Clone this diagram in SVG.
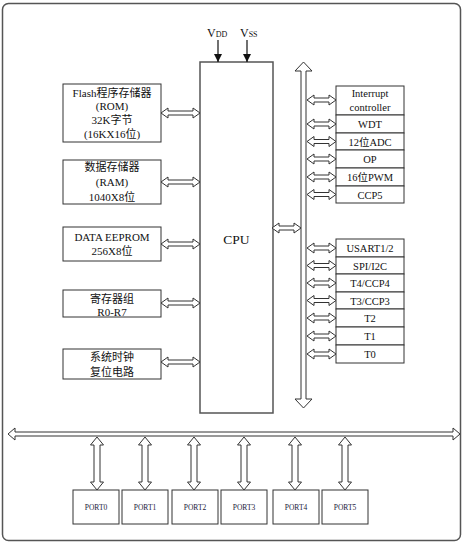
<svg xmlns="http://www.w3.org/2000/svg" width="464" height="544" viewBox="0 0 464 544">
<style>
.frame{fill:#fff;stroke:#555;stroke-width:1.5}
.box{fill:#fff;stroke:#333;stroke-width:1}
.cpu{fill:#fff;stroke:#555;stroke-width:1.5}
.arr{fill:#fff;stroke:#333;stroke-width:1;stroke-linejoin:miter}
.t{font-family:"Liberation Serif","Noto Sans CJK SC",serif;font-size:11px;fill:#111;text-anchor:middle}
.r{font-size:10.5px}
.p{font-size:7.5px;fill:#1a1a3a}
.big{font-size:13.5px}
.ln{stroke:#111;stroke-width:1.2}
</style>
<defs>
<marker id="ah" viewBox="0 0 8 8" refX="8" refY="4" markerWidth="8" markerHeight="8" markerUnits="userSpaceOnUse" orient="auto"><path d="M0,0 L8,4 L0,8 Z" fill="#111"/></marker>
</defs>
<rect class="frame" x="2.5" y="3.5" width="458" height="537" rx="6"/>

<g id="vdd">
<text x="207" y="37" font-family="Liberation Serif,serif" font-size="12" fill="#111">V<tspan font-size="8">DD</tspan></text>
</g>
<g id="vss">
<text x="240" y="37" font-family="Liberation Serif,serif" font-size="12" fill="#111">V<tspan font-size="8">SS</tspan></text>
</g>

<g id="cpu">
<rect class="cpu" x="200" y="62" width="73" height="351"/>
<text class="t big" x="236.5" y="244">CPU</text>
</g>

<g id="flash">
<rect class="box" x="63" y="84" width="98" height="58"/>
<text class="t" x="112" y="97">Flash程序存储器</text>
<text class="t" x="112" y="110">(ROM)</text>
<text class="t" x="112" y="124">32K字节</text>
<text class="t" x="112" y="138">(16KX16位)</text>
</g>
<g id="ram">
<rect class="box" x="63" y="160" width="98" height="44"/>
<text class="t" x="112" y="171">数据存储器</text>
<text class="t" x="112" y="186">(RAM)</text>
<text class="t" x="112" y="201">1040X8位</text>
</g>
<g id="eeprom">
<rect class="box" x="63" y="227" width="98" height="34"/>
<text class="t" x="112" y="241">DATA EEPROM</text>
<text class="t" x="112" y="255">256X8位</text>
</g>
<g id="regs">
<rect class="box" x="63" y="290" width="98" height="27"/>
<text class="t" x="112" y="303">寄存器组</text>
<text class="t" x="112" y="316">R0-R7</text>
</g>
<g id="clock">
<rect class="box" x="63" y="349" width="98" height="30"/>
<text class="t" x="112" y="361">系统时钟</text>
<text class="t" x="112" y="376">复位电路</text>
</g>

<g id="intc"><rect class="box" x="336" y="86" width="68" height="29"/><text class="t r" x="370" y="97">Interrupt</text><text class="t r" x="370" y="111">controller</text></g>
<g id="wdt"><rect class="box" x="336" y="115" width="68" height="18"/><text class="t r" x="370" y="128">WDT</text></g>
<g id="adc"><rect class="box" x="336" y="133" width="68" height="17"/><text class="t r" x="370" y="145.5">12位ADC</text></g>
<g id="op"><rect class="box" x="336" y="150" width="68" height="18"/><text class="t r" x="370" y="163">OP</text></g>
<g id="pwm"><rect class="box" x="336" y="168" width="68" height="18"/><text class="t r" x="370" y="181">16位PWM</text></g>
<g id="ccp5"><rect class="box" x="336" y="186" width="68" height="17"/><text class="t r" x="370" y="198.5">CCP5</text></g>

<g id="usart"><rect class="box" x="336" y="239" width="68" height="18"/><text class="t r" x="370" y="252">USART1/2</text></g>
<g id="spi"><rect class="box" x="336" y="257" width="68" height="17"/><text class="t r" x="370" y="269.5">SPI/I2C</text></g>
<g id="t4"><rect class="box" x="336" y="274" width="68" height="18"/><text class="t r" x="370" y="287">T4/CCP4</text></g>
<g id="t3"><rect class="box" x="336" y="292" width="68" height="17"/><text class="t r" x="370" y="304.5">T3/CCP3</text></g>
<g id="t2"><rect class="box" x="336" y="309" width="68" height="18"/><text class="t r" x="370" y="322">T2</text></g>
<g id="t1"><rect class="box" x="336" y="327" width="68" height="18"/><text class="t r" x="370" y="340">T1</text></g>
<g id="t0"><rect class="box" x="336" y="345" width="68" height="18"/><text class="t r" x="370" y="358">T0</text></g>

<g id="port0"><rect class="box" x="73" y="490" width="46" height="34"/><text class="t p" x="96" y="510">PORT0</text></g>
<g id="port1"><rect class="box" x="122" y="490" width="46" height="34"/><text class="t p" x="145" y="510">PORT1</text></g>
<g id="port2"><rect class="box" x="172" y="490" width="46" height="34"/><text class="t p" x="195" y="510">PORT2</text></g>
<g id="port3"><rect class="box" x="221" y="490" width="46" height="34"/><text class="t p" x="244" y="510">PORT3</text></g>
<g id="port4"><rect class="box" x="273" y="490" width="46" height="34"/><text class="t p" x="296" y="510">PORT4</text></g>
<g id="port5"><rect class="box" x="322" y="490" width="46" height="34"/><text class="t p" x="345" y="510">PORT5</text></g>

<g id="connectors">
<line class="ln" x1="218" y1="40" x2="218" y2="62" marker-end="url(#ah)"/>
<line class="ln" x1="247" y1="40" x2="247" y2="62" marker-end="url(#ah)"/>
<path class="arr" d="M303.5,62 L312,71 L306,71 L306,399 L312,399 L303.5,408 L295,399 L301,399 L301,71 L295,71 Z"/>
<path class="arr" d="M8,434 L15,428 L15,432 L453,432 L453,428 L460,434 L453,440 L453,436 L15,436 L15,440 Z"/>
<path class="arr" d="M161,113 L168,108 L168,111 L193,111 L193,108 L200,113 L193,118 L193,115 L168,115 L168,118 Z"/>
<path class="arr" d="M161,182 L168,177 L168,180 L193,180 L193,177 L200,182 L193,187 L193,184 L168,184 L168,187 Z"/>
<path class="arr" d="M161,244 L168,239 L168,242 L193,242 L193,239 L200,244 L193,249 L193,246 L168,246 L168,249 Z"/>
<path class="arr" d="M161,303 L168,298 L168,301 L193,301 L193,298 L200,303 L193,308 L193,305 L168,305 L168,308 Z"/>
<path class="arr" d="M161,362 L168,357 L168,360 L193,360 L193,357 L200,362 L193,367 L193,364 L168,364 L168,367 Z"/>
<path class="arr" d="M272,228 L279,223 L279,226 L294,226 L294,223 L301,228 L294,233 L294,230 L279,230 L279,233 Z"/>
<path class="arr" d="M307,100 L314,95 L314,98 L329,98 L329,95 L336,100 L329,105 L329,102 L314,102 L314,105 Z"/>
<path class="arr" d="M307,124 L314,119 L314,122 L329,122 L329,119 L336,124 L329,129 L329,126 L314,126 L314,129 Z"/>
<path class="arr" d="M307,141.5 L314,136.5 L314,139.5 L329,139.5 L329,136.5 L336,141.5 L329,146.5 L329,143.5 L314,143.5 L314,146.5 Z"/>
<path class="arr" d="M307,159 L314,154 L314,157 L329,157 L329,154 L336,159 L329,164 L329,161 L314,161 L314,164 Z"/>
<path class="arr" d="M307,177 L314,172 L314,175 L329,175 L329,172 L336,177 L329,182 L329,179 L314,179 L314,182 Z"/>
<path class="arr" d="M307,194.5 L314,189.5 L314,192.5 L329,192.5 L329,189.5 L336,194.5 L329,199.5 L329,196.5 L314,196.5 L314,199.5 Z"/>
<path class="arr" d="M307,248 L314,243 L314,246 L329,246 L329,243 L336,248 L329,253 L329,250 L314,250 L314,253 Z"/>
<path class="arr" d="M307,265.5 L314,260.5 L314,263.5 L329,263.5 L329,260.5 L336,265.5 L329,270.5 L329,267.5 L314,267.5 L314,270.5 Z"/>
<path class="arr" d="M307,283 L314,278 L314,281 L329,281 L329,278 L336,283 L329,288 L329,285 L314,285 L314,288 Z"/>
<path class="arr" d="M307,300.5 L314,295.5 L314,298.5 L329,298.5 L329,295.5 L336,300.5 L329,305.5 L329,302.5 L314,302.5 L314,305.5 Z"/>
<path class="arr" d="M307,318 L314,313 L314,316 L329,316 L329,313 L336,318 L329,323 L329,320 L314,320 L314,323 Z"/>
<path class="arr" d="M307,336 L314,331 L314,334 L329,334 L329,331 L336,336 L329,341 L329,338 L314,338 L314,341 Z"/>
<path class="arr" d="M307,354 L314,349 L314,352 L329,352 L329,349 L336,354 L329,359 L329,356 L314,356 L314,359 Z"/>
<path class="arr" d="M97,437 L103.5,445 L100,445 L100,482 L103.5,482 L97,490 L90.5,482 L94,482 L94,445 L90.5,445 Z"/>
<path class="arr" d="M145,437 L151.5,445 L148,445 L148,482 L151.5,482 L145,490 L138.5,482 L142,482 L142,445 L138.5,445 Z"/>
<path class="arr" d="M194,437 L200.5,445 L197,445 L197,482 L200.5,482 L194,490 L187.5,482 L191,482 L191,445 L187.5,445 Z"/>
<path class="arr" d="M244,437 L250.5,445 L247,445 L247,482 L250.5,482 L244,490 L237.5,482 L241,482 L241,445 L237.5,445 Z"/>
<path class="arr" d="M295,437 L301.5,445 L298,445 L298,482 L301.5,482 L295,490 L288.5,482 L292,482 L292,445 L288.5,445 Z"/>
<path class="arr" d="M345,437 L351.5,445 L348,445 L348,482 L351.5,482 L345,490 L338.5,482 L342,482 L342,445 L338.5,445 Z"/>
</g>
</svg>
